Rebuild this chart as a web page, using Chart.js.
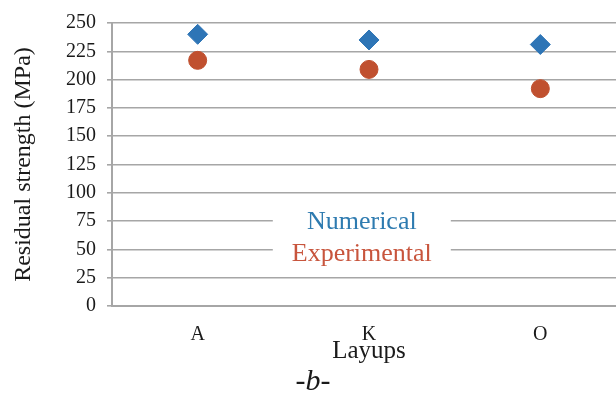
<!DOCTYPE html>
<html>
<head>
<meta charset="utf-8">
<script src="https://cdn.jsdelivr.net/npm/chart.js@4"></script>
<style>
  html, body { margin: 0; padding: 0; background: #fff; overflow: hidden; }
  #wrap { width: 616px; height: 406px; overflow: hidden; }
  #myChart { display: block; width: 626px; height: 406px; }
</style>
</head>
<body>
<div id="wrap"><canvas id="myChart" width="626" height="406"></canvas></div>
<script>
const layups = ["A", "K", "O"];
const numerical = [240, 235, 231];
const experimental = [217, 209, 192];
const yTicks = [0, 25, 50, 75, 100, 125, 150, 175, 200, 225, 250];

const serif = "'Liberation Serif', 'Times New Roman', serif";

// legend drawn inside the plot, over the grid lines, like the original
const innerLegend = {
  id: "innerLegend",
  afterDatasetsDraw: (chart) => {
    const { ctx, chartArea, scales } = chart;
    const cx = chartArea.left + (chartArea.right - chartArea.left) * 0.486;
    const top = scales.y.getPixelForValue(88);
    const bottom = scales.y.getPixelForValue(35);
    ctx.save();
    ctx.fillStyle = "#fff";
    ctx.fillRect(cx - 89, top, 178, bottom - top);
    ctx.font = "26px " + serif;
    ctx.textAlign = "center";
    ctx.textBaseline = "middle";
    chart.data.datasets.forEach((ds, i) => {
      ctx.fillStyle = ds.textColor;
      ctx.fillText(ds.label, cx, scales.y.getPixelForValue(74) + i * 32);
    });
    ctx.restore();
  },
};

new Chart(document.getElementById("myChart"), {
  type: "line",
  data: {
    labels: layups,
    datasets: [
      {
        label: "Numerical",
        data: numerical,
        showLine: false,
        pointStyle: "rectRot",
        pointRadius: 10,
        pointBackgroundColor: "#2e75b6",
        pointBorderColor: "#2e75b6",
        textColor: "#2e7bb0",
      },
      {
        label: "Experimental",
        data: experimental,
        showLine: false,
        pointStyle: "circle",
        pointRadius: 9,
        pointBackgroundColor: "#c0502f",
        pointBorderColor: "#c0502f",
        textColor: "#c8553d",
      },
    ],
  },
  options: {
    responsive: false,
    animation: false,
    // canvas is 10px wider than the page: the plot runs past the right edge like the original
    layout: { autoPadding: false, padding: { top: 16, right: 0, left: 0, bottom: 0 } },
    scales: {
      x: {
        offset: true,
        afterFit: (scale) => {
          scale.height = 58;
        },
        grid: { display: false, drawTicks: false },
        border: { color: "#a6a6a6", width: 2 },
        ticks: { color: "#1a1a1a", font: { family: serif, size: 20 }, padding: 17 },
        title: {
          display: true,
          text: "Layups",
          color: "#1a1a1a",
          font: { family: serif, size: 25, lineHeight: 1 },
          padding: { top: 0, bottom: 0 },
        },
      },
      y: {
        min: 0,
        max: 250,
        afterFit: (scale) => {
          scale.width = 112;
        },
        afterBuildTicks: (scale) => {
          scale.ticks = yTicks.map((v) => ({ value: v }));
        },
        grid: { color: "#a6a6a6", lineWidth: 1.6, tickLength: 5 },
        border: { color: "#a6a6a6", width: 2 },
        ticks: { color: "#1a1a1a", font: { family: serif, size: 20 }, padding: 11 },
        title: {
          display: true,
          text: "Residual strength (MPa)",
          color: "#1a1a1a",
          font: { family: serif, size: 24 },
          padding: { top: 9, bottom: 0 },
        },
      },
    },
    plugins: {
      legend: { display: false },
      tooltip: { enabled: false },
      title: {
        display: true,
        position: "bottom",
        text: "-b-",
        color: "#1a1a1a",
        font: { family: serif, size: 30, style: "italic", weight: "normal" },
        padding: { top: 0, bottom: 6 },
      },
    },
  },
  plugins: [innerLegend],
});
</script>
</body>
</html>
